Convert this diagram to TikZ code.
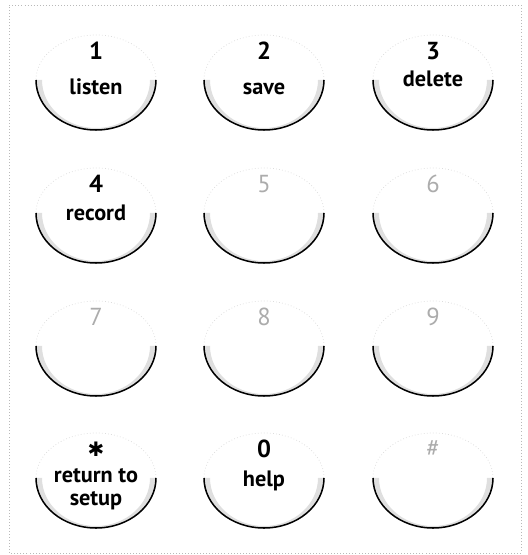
\documentclass[tikz,border=0pt]{standalone}
\usepackage{fontspec}
\setmainfont{PT Sans}
\newfontfamily\symfont{DejaVu Sans}
\usetikzlibrary{positioning}

\begin{document}
\begin{tikzpicture}[x=0.03cm,y=0.03cm,
    rim/.style={line width=1.3pt,black},
    crest/.style={gray!30,dotted,line width=0.6pt},
    hollow/.style={fill=gray!25},
    keynum/.style={font=\bfseries\fontsize{21}{21}\selectfont,inner sep=0pt},
    dimnum/.style={keynum,font=\fontsize{21}{21}\selectfont,text=gray!65},
    keyname/.style={font=\bfseries\fontsize{19}{20}\selectfont,align=center,inner sep=0pt,anchor=base}]
  \useasboundingbox (0,0) rectangle (527,555);
  \draw[gray!55,dotted,line width=0.6pt] (9,2) rectangle (521,550);

  % keys: x / y / name / digit / style
  \foreach \cx/\cy/\n/\d/\s in {
      96/475/k1/1/keynum, 264/475/k2/2/keynum, 433/475/k3/3/keynum,
      96/342/k4/4/keynum, 264/342/k5/5/dimnum, 433/342/k6/6/dimnum,
      96/209/k7/7/dimnum, 264/209/k8/8/dimnum, 433/209/k9/9/dimnum,
      96/77/ks/{\symfont\fontsize{17}{17}\selectfont ✱}/keynum, 264/77/k0/0/keynum, 433/77/kh/\#/dimnum} {
    \fill[hollow] (\cx-60,\cy) arc[start angle=180,end angle=360,x radius=60,y radius=50]
      -- (\cx+54,\cy) arc[start angle=0,end angle=-180,x radius=54,y radius=48] -- cycle;
    \draw[crest] (\cx+60,\cy) arc[start angle=0,end angle=180,x radius=60,y radius=45];
    \draw[rim] (\cx-60,\cy) arc[start angle=180,end angle=360,x radius=60,y radius=50];
    \node[\s] (\n) at (\cx,\cy+29) {\d};
  }

  % labels under the digits
  \foreach \cx/\cy/\n/\t in {
      96/460/listen/listen, 264/460/save/save, 433/468/delete/delete,
      96/334/record/record, 96/49/setup/{return to\\setup}, 264/68/help/help} {
    \node[keyname] (\n) at (\cx,\cy) {\t};
  }
\end{tikzpicture}
\end{document}
